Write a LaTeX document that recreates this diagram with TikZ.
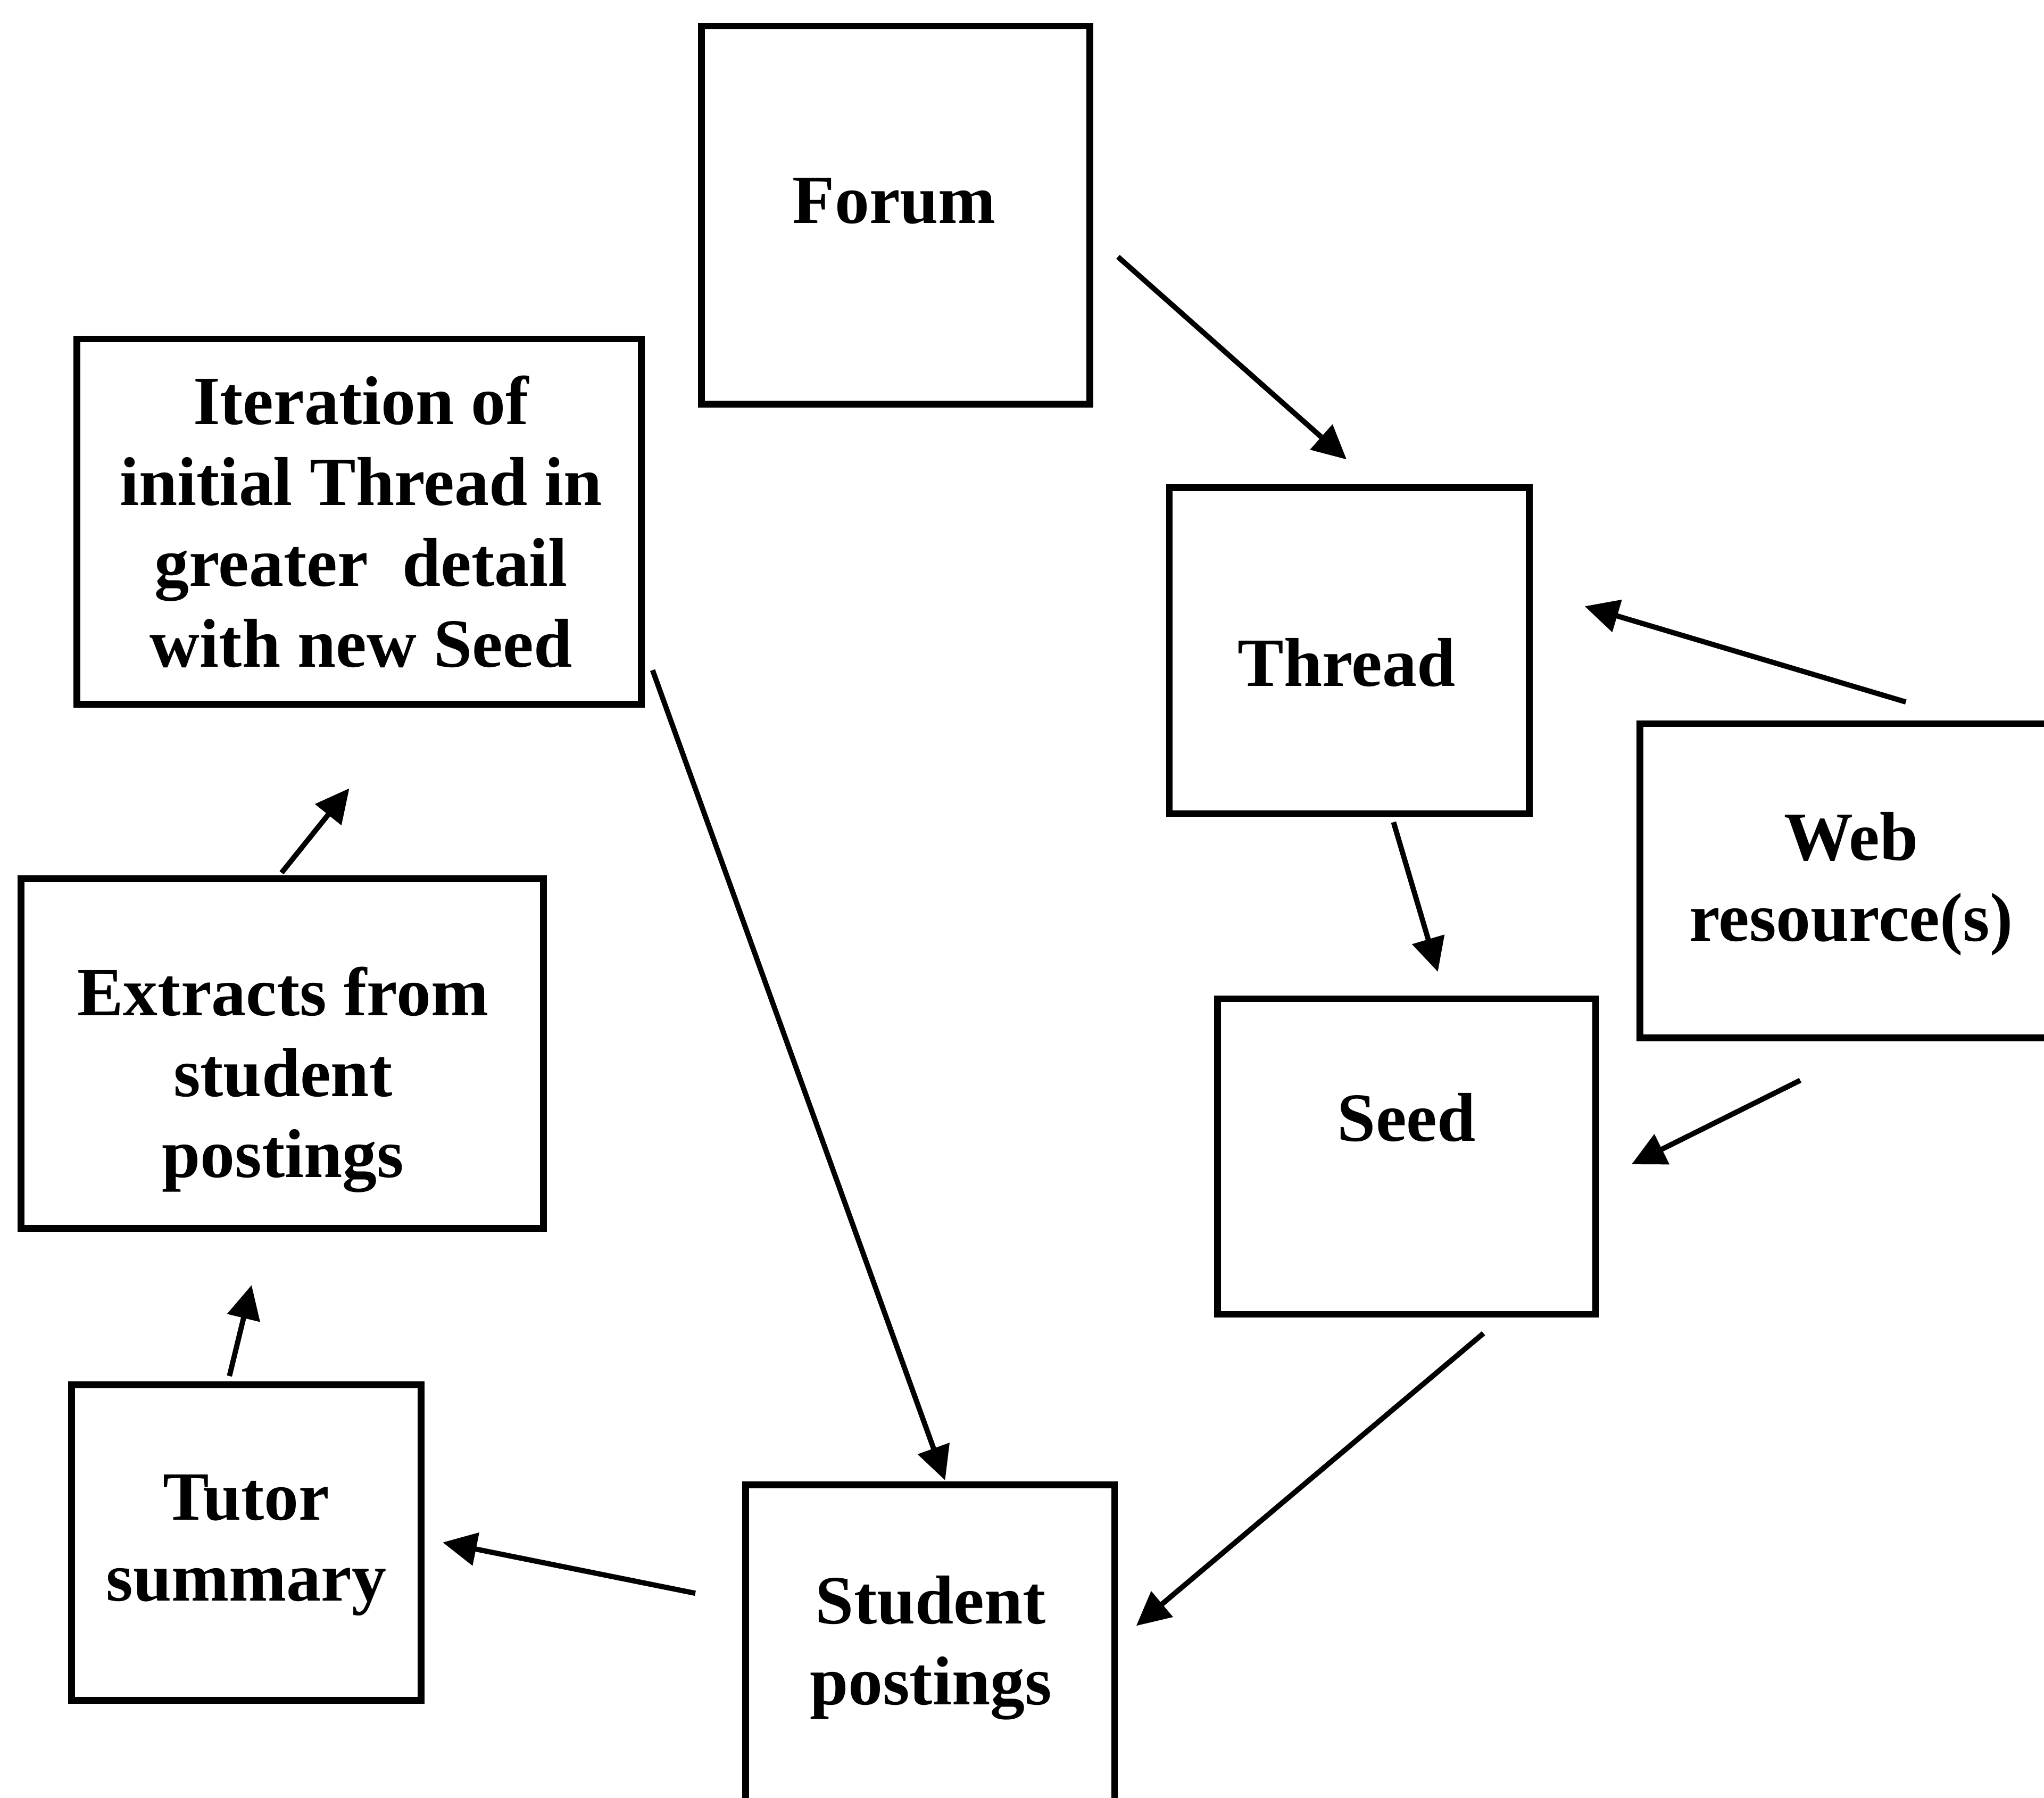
\documentclass[tikz,border=0pt]{standalone}
\usepackage{fontspec}
\setmainfont{Liberation Serif}
\usetikzlibrary{arrows.meta,calc}
\begin{document}
\begin{tikzpicture}[x=0.5pt,y=-0.5pt,
  box/.style={draw, line width=2.6pt, rectangle, inner sep=0pt},
  lbl/.style={align=center, inner sep=0pt, font=\bfseries\fontsize{26.5}{31}\selectfont},
  arr/.style={line width=2pt, -{Triangle[length=13pt,width=12.5pt]}}]
\useasboundingbox (0,0) rectangle (1568,1379);
\fill[white] (0,0) rectangle (1568,1379);
\clip (0,0) rectangle (1568,1379);

% boxes
\node[box, minimum width=149pt,   minimum height=145pt]   (forum)     at (687,165)    {};
\node[box, minimum width=138pt,   minimum height=125pt]   (thread)    at (1035,499)   {};
\node[box, minimum width=162pt,   minimum height=120.5pt] (web)       at (1420,675.5) {};
\node[box, minimum width=145pt,   minimum height=121pt]   (seed)      at (1079,887)   {};
\node[box, minimum width=141.5pt, minimum height=123pt]   (student)   at (713.5,1262) {};
\node[box, minimum width=134pt,   minimum height=121pt]   (tutor)     at (189,1183)   {};
\node[box, minimum width=200.5pt, minimum height=134pt]   (extracts)  at (216.5,808)  {};
\node[box, minimum width=216.5pt, minimum height=140pt]   (iteration) at (275.5,400)  {};

% labels
\node[lbl] (forum-t)     at (686,154)  {Forum};
\node[lbl] (thread-t)    at (1033,508) {Thread};
\node[lbl] (web-t)       at (1420,678) {Web\\resource(s)};
\node[lbl] (seed-t)      at (1079,857) {Seed};
\node[lbl] (student-t)   at (714,1264) {Student\\postings};
\node[lbl] (tutor-t)     at (189,1185) {Tutor\\summary};
\node[lbl] (extracts-t)  at (217,828)  {Extracts from\\student\\postings};
\node[lbl] (iteration-t) at (277,400)  {Iteration of\\initial Thread in\\greater\ \ detail\\with new Seed};

% connectors
\draw[arr] ($(forum.east)+(19,32)$)       -- ($(thread.north)+(-2,-19)$);
\draw[arr] ($(web.north)+(42,-14)$)       -- ($(thread.east)+(40,-34)$);
\draw[arr] ($(thread.south)+(34,4)$)      -- ($(seed.north)+(24,-18)$);
\draw[arr] ($(web.south)+(-39,30)$)       -- ($(seed.east)+(25,6)$);
\draw[arr] ($(seed.south)+(59,12)$)       -- ($(student.east)+(14,-15)$);
\draw[arr] ($(student.west)+(-36,-40)$)   -- ($(tutor.east)+(14,0)$);
\draw[arr] ($(tutor.north)+(-13,-4)$)     -- ($(extracts.south)+(-23.5,41)$);
\draw[arr] ($(extracts.north)+(-0.5,-2)$) -- ($(iteration.south)+(-7.5,62)$);
\draw[arr] ($(iteration.east)+(6,114)$)   -- ($(student.north)+(11.5,-1)$);
\end{tikzpicture}
\end{document}
